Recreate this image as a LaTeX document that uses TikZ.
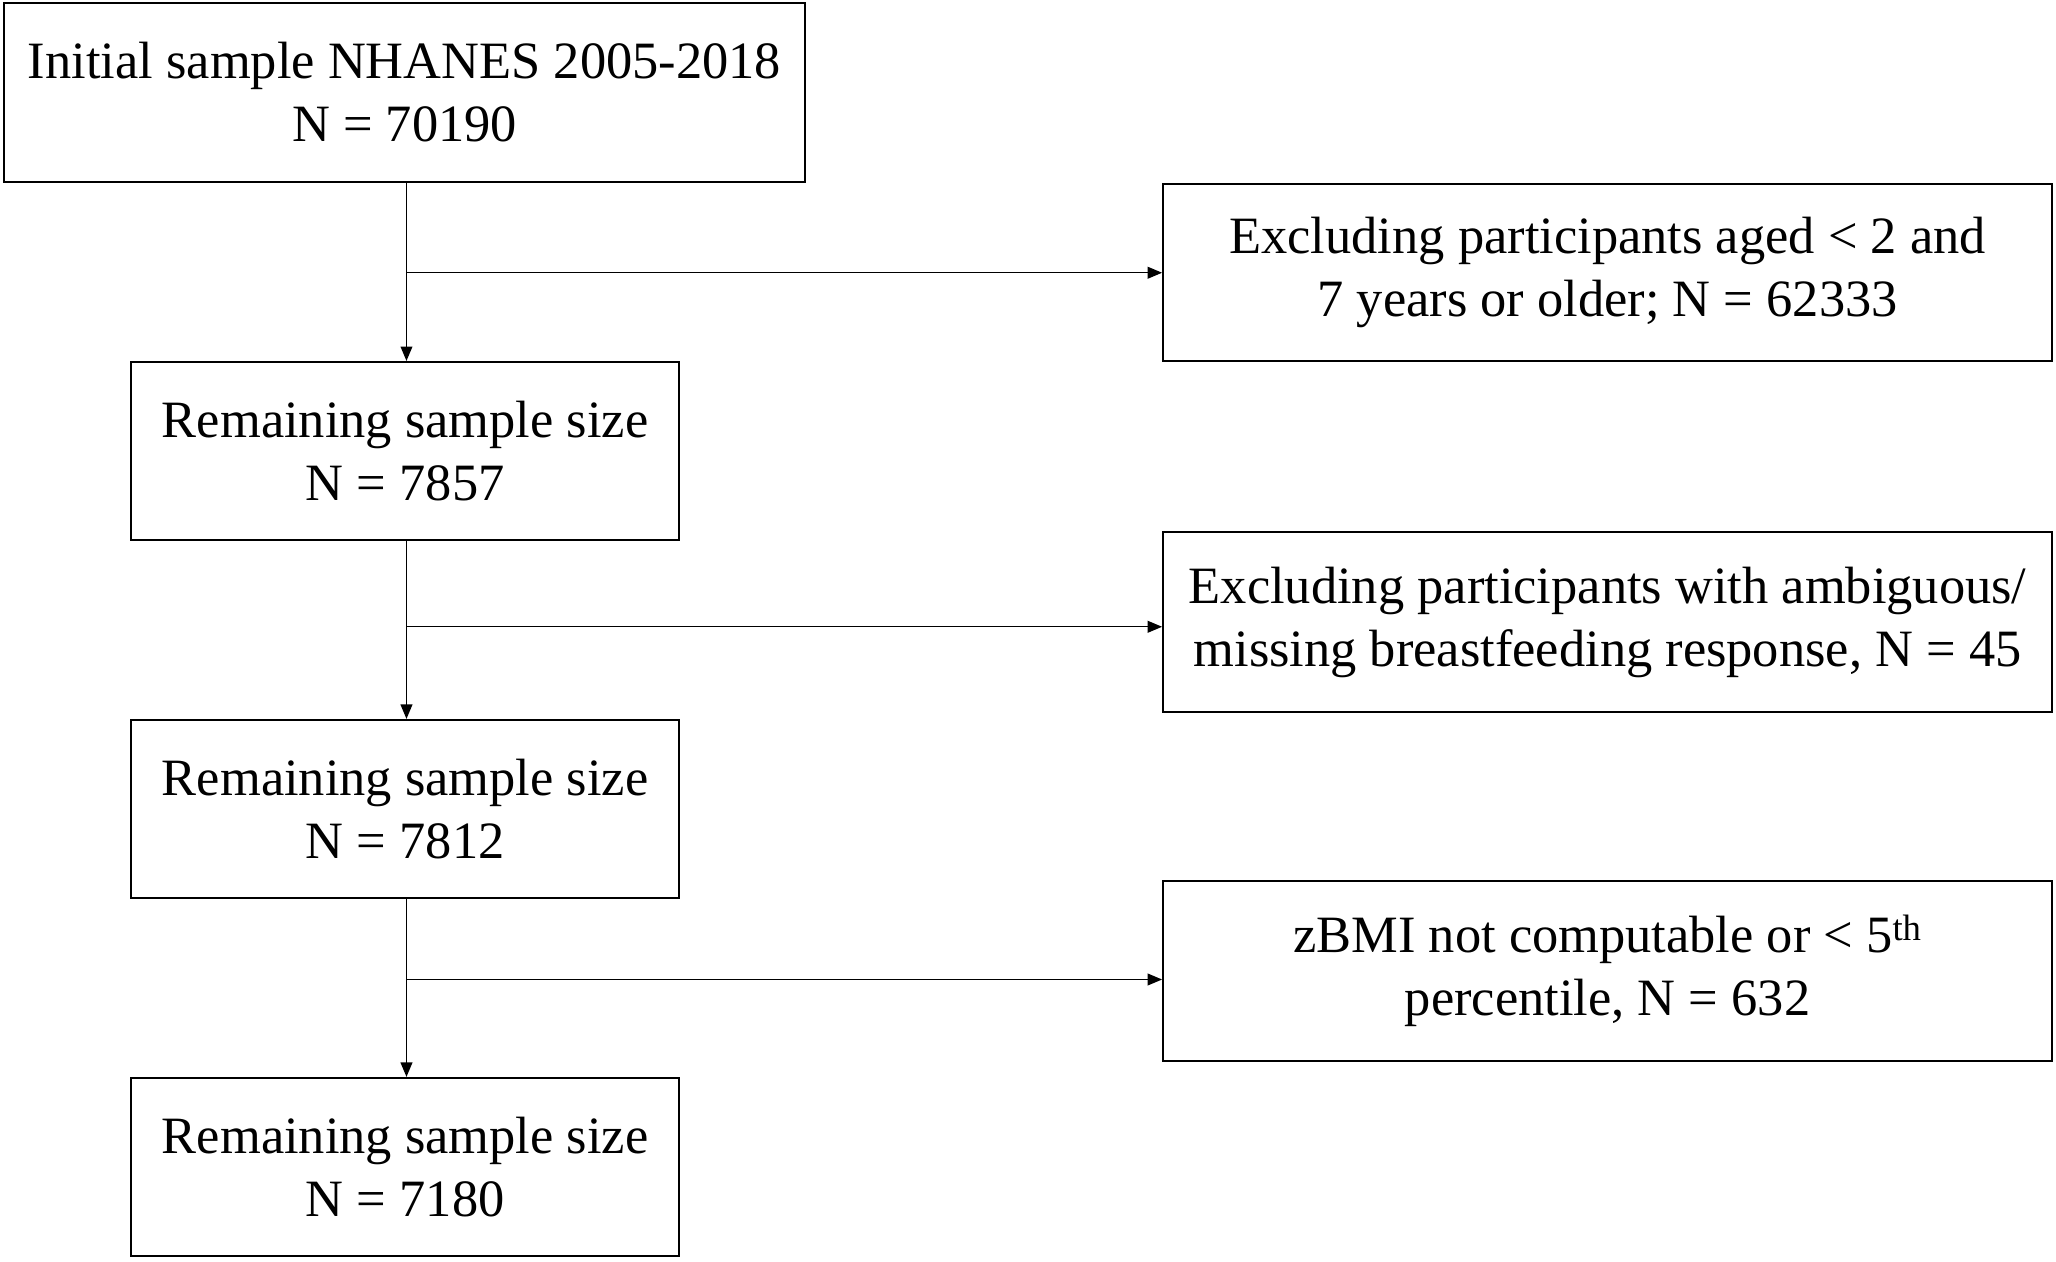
\documentclass[tikz,border=0pt]{standalone}
\usepackage{fontspec}
\setmainfont{Liberation Serif}
\usetikzlibrary{arrows.meta}
\begin{document}
\begin{tikzpicture}[x=1pt,y=-1pt,
 box/.style={draw,line width=1.5pt,align=center,inner sep=0pt,font=\fontsize{40}{48}\selectfont},
 arr/.style={line width=1pt,-{Triangle[length=11pt,width=9pt]}}]
\useasboundingbox (0,0) rectangle (1568,962);
\node[box,minimum width=611,minimum height=137] (b1) at (308.5,70.5) {Initial sample NHANES 2005-2018\\N = 70190};
\node[box,minimum width=418,minimum height=136] (b2) at (309,344) {Remaining sample size\\N = 7857};
\node[box,minimum width=418,minimum height=136] (b3) at (309,617) {Remaining sample size\\N = 7812};
\node[box,minimum width=418,minimum height=136] (b4) at (309,890) {Remaining sample size\\N = 7180};
\node[box,minimum width=678,minimum height=135] (r1) at (1226,207.5) {Excluding participants aged < 2 and\\7 years or older; N = 62333};
\node[box,minimum width=678,minimum height=137] (r2) at (1226,474.5) {Excluding participants with ambiguous/\\missing breastfeeding response, N = 45};
\node[box,minimum width=678,minimum height=137] (r3) at (1226,740.5) {zBMI not computable or < 5\textsuperscript{th}\\percentile, N = 632};
\coordinate (j1) at (310,208); \coordinate (j2) at (310,478); \coordinate (j3) at (310,747);
\draw[arr] (b1.south -| j1) -- (b2.north -| j1);
\draw[arr] (b2.south -| j2) -- (b3.north -| j2);
\draw[arr] (b3.south -| j3) -- (b4.north -| j3);
\draw[arr] (j1) -- (j1 -| r1.west);
\draw[arr] (j2) -- (j2 -| r2.west);
\draw[arr] (j3) -- (j3 -| r3.west);
\end{tikzpicture}
\end{document}
